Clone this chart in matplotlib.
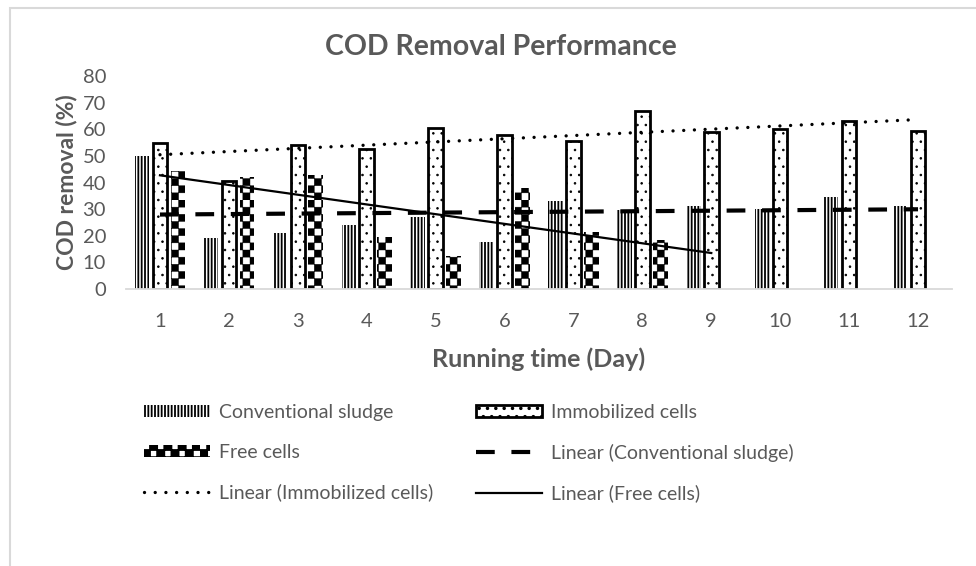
import warnings

import matplotlib
matplotlib.use("Agg")
import matplotlib.hatch as mhatch
import matplotlib.pyplot as plt
import numpy as np
from matplotlib.patches import Rectangle
from matplotlib.path import Path

warnings.filterwarnings("ignore")

days = [1, 2, 3, 4, 5, 6, 7, 8, 9, 10, 11, 12]
conventional = [50, 19, 21, 24, 27, 17.5, 33, 29.5, 31, 30, 34.5, 31]
immobilized = [55, 40.5, 54, 52.5, 60.5, 58, 55.5, 67, 59, 60, 63, 59.5]
free_cells = [44.5, 42, 43, 19.5, 12.5, 38, 21.5, 18.5]
free_forecast = 1  # trendline runs one day past the last free-cells point

TEXT = "#595959"
GRID = "#d9d9d9"


class CheckerHatch(mhatch.HatchPatternBase):
    """Filled checkerboard hatch, selected with the letter 'c'."""

    def __init__(self, hatch, density):
        self.num_cells = hatch.count("c") * 14
        self.num_vertices = (self.num_cells ** 2 // 2) * 5

    def set_vertices_and_codes(self, vertices, codes):
        n = self.num_cells
        step = 1.0 / n
        ii, jj = np.meshgrid(np.arange(n), np.arange(n))
        mask = (ii + jj) % 2 == 0
        origins = np.stack([ii[mask], jj[mask]], axis=-1) * step
        square = np.array([[0, 0], [1, 0], [1, 1], [0, 1], [0, 0]]) * step
        vertices[:] = (origins[:, None, :] + square[None]).reshape(-1, 2)
        codes[:] = np.tile([Path.MOVETO, Path.LINETO, Path.LINETO,
                            Path.LINETO, Path.CLOSEPOLY], len(origins))


mhatch._hatch_types.append(CheckerHatch)


def set_hatch_width(bars, lw):
    for p in bars:
        try:
            p.set_hatch_linewidth(lw)
        except AttributeError:
            pass


plt.rcParams["font.family"] = ["Lato", "DejaVu Sans"]
plt.rcParams["hatch.linewidth"] = 1.3

fig = plt.figure(figsize=(9.76, 5.66), dpi=100)
fig.patches.append(Rectangle((10 / 976, -0.05), 1.0, 1 - 8 / 566 + 0.05,
                             transform=fig.transFigure, fill=False,
                             edgecolor=GRID, linewidth=1.5))

ax = fig.add_axes([0.1286, 0.4894, 0.8473, 0.3763])

x = np.array(days, dtype=float)
width = 0.21
offset = 0.26

b_conv = ax.bar(x - offset, conventional, width, facecolor="white",
                edgecolor="black", linewidth=0, hatch="|||||",
                label="Conventional sludge", zorder=2)
b_imm = ax.bar(x, immobilized, width, facecolor="white", edgecolor="black",
               linewidth=2.0, hatch="..", label="Immobilized cells", zorder=2)
set_hatch_width(b_imm, 0.6)
b_free = ax.bar(x[:len(free_cells)] + offset, free_cells, width,
                facecolor="white", edgecolor="black", linewidth=0,
                hatch="c", label="Free cells", zorder=2)
set_hatch_width(b_free, 0.3)

# linear trendlines, like Excel
k, c = np.polyfit(x, conventional, 1)
l_conv, = ax.plot(x, k * x + c, color="black", linewidth=3,
                  linestyle=(0, (4.5, 4)), label="Linear (Conventional sludge)",
                  zorder=3)
k, c = np.polyfit(x, immobilized, 1)
l_imm, = ax.plot(x, k * x + c, color="black", linewidth=2.4,
                 linestyle=(0, (0.01, 3.2)), dash_capstyle="round",
                 label="Linear (Immobilized cells)", zorder=3)
xf = x[:len(free_cells)]
k, c = np.polyfit(xf, free_cells, 1)
xf_line = x[:len(free_cells) + free_forecast]
l_free, = ax.plot(xf_line, k * xf_line + c, color="black", linewidth=1.6,
                  label="Linear (Free cells)", zorder=3)

ax.set_xlim(0.5, 12.5)
ax.set_ylim(0, 80)
ax.set_xticks(days)
ax.set_yticks(np.arange(0, 81, 10))
ax.tick_params(length=0, labelsize=14.5, labelcolor=TEXT)
ax.tick_params(axis="x", pad=17)
ax.tick_params(axis="y", pad=14)
for side in ["top", "right", "left"]:
    ax.spines[side].set_visible(False)
ax.spines["bottom"].set_color(GRID)
ax.spines["bottom"].set_linewidth(1.3)

# title is centred on the whole chart area, not on the plot area
fig.text(501 / 976, 1 - 47 / 566, "COD Removal Performance", fontsize=20.5,
         fontweight="bold", color=TEXT, ha="center", va="center")
ax.set_xlabel("Running time (Day)", fontsize=18, fontweight="bold",
              color=TEXT, labelpad=13)
ax.set_ylabel("COD removal (%)", fontsize=16.5, fontweight="bold",
              color=TEXT, labelpad=4)

handles = [b_conv, b_free, l_imm, b_imm, l_conv, l_free]
leg = fig.legend(handles=handles, loc="upper left", ncol=2,
                 bbox_to_anchor=(136 / 976, 1 - 396 / 566), frameon=False,
                 fontsize=14, handlelength=3.4, handleheight=0.55,
                 handletextpad=0.45, labelspacing=1.17, columnspacing=2.2,
                 borderaxespad=0)
for t in leg.get_texts():
    t.set_color(TEXT)

fig.savefig("out.png", dpi=100)
